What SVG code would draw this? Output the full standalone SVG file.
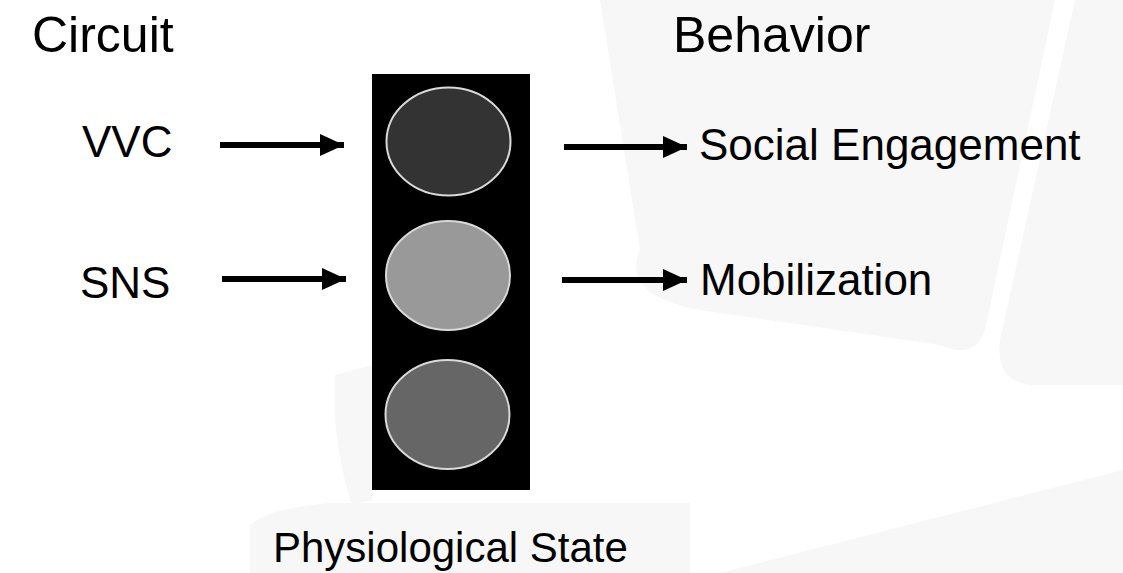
<svg xmlns="http://www.w3.org/2000/svg" width="1123" height="573" viewBox="0 0 1123 573">
  <style>
    .lbl { font-family: "Liberation Sans", Arial, sans-serif; fill: #000; }
    .wm { fill: #f7f7f7; }
    .conn { stroke: #000; stroke-width: 6; fill: none; }
    .light { stroke: #d9d9d9; stroke-width: 2; }
  </style>
  <defs>
    <marker id="ah" markerUnits="userSpaceOnUse" markerWidth="26" markerHeight="24" refX="24" refY="12" orient="auto">
      <path d="M0,1 L24,12 L0,23 Z" fill="#000"/>
    </marker>
  </defs>
  <rect width="1123" height="573" fill="#ffffff"/>
  <g id="watermark">
    <path class="wm" d="M600,0 L1055,0 L985,330 Q975,360 940,345 L700,310 Q620,295 640,250 Z"/>
    <path class="wm" d="M1075,0 L1123,0 L1123,385 L1030,385 Q995,380 1000,340 Z"/>
    <path class="wm" d="M335,375 L372,365 L372,500 L352,505 Q340,470 335,420 Z"/>
    <path class="wm" d="M250,525 Q270,508 330,503 L690,503 L690,573 L250,573 Z"/>
    <path class="wm" d="M720,573 L1123,470 L1123,573 Z"/>
  </g>
  <g id="traffic-light">
    <rect x="372" y="74" width="158" height="416" fill="#000"/>
  </g>
  <g id="light-top">
    <ellipse class="light" cx="448.5" cy="141.5" rx="62" ry="54" fill="#333333"/>
  </g>
  <g id="light-middle">
    <ellipse class="light" cx="448" cy="275.5" rx="62" ry="54.5" fill="#999999"/>
  </g>
  <g id="light-bottom">
    <ellipse class="light" cx="447.5" cy="414.5" rx="62" ry="54.5" fill="#666666"/>
  </g>
  <g id="connectors">
    <line class="conn" x1="220" y1="145" x2="344" y2="145" marker-end="url(#ah)"/>
    <line class="conn" x1="222" y1="279" x2="346" y2="279" marker-end="url(#ah)"/>
    <line class="conn" x1="564" y1="147" x2="687" y2="147" marker-end="url(#ah)"/>
    <line class="conn" x1="562" y1="280" x2="687" y2="280" marker-end="url(#ah)"/>
  </g>
  <g id="label-circuit"><text class="lbl" x="32" y="52" font-size="50">Circuit</text></g>
  <g id="label-behavior"><text class="lbl" x="673" y="52" font-size="50">Behavior</text></g>
  <g id="node-vvc"><text class="lbl" x="82" y="157" font-size="44">VVC</text></g>
  <g id="node-sns"><text class="lbl" x="80" y="298" font-size="44">SNS</text></g>
  <g id="node-social"><text class="lbl" x="699" y="160" font-size="44">Social Engagement</text></g>
  <g id="node-mobilization"><text class="lbl" x="700" y="295" font-size="44">Mobilization</text></g>
  <g id="label-state"><text class="lbl" x="273" y="562" font-size="42">Physiological State</text></g>
</svg>
